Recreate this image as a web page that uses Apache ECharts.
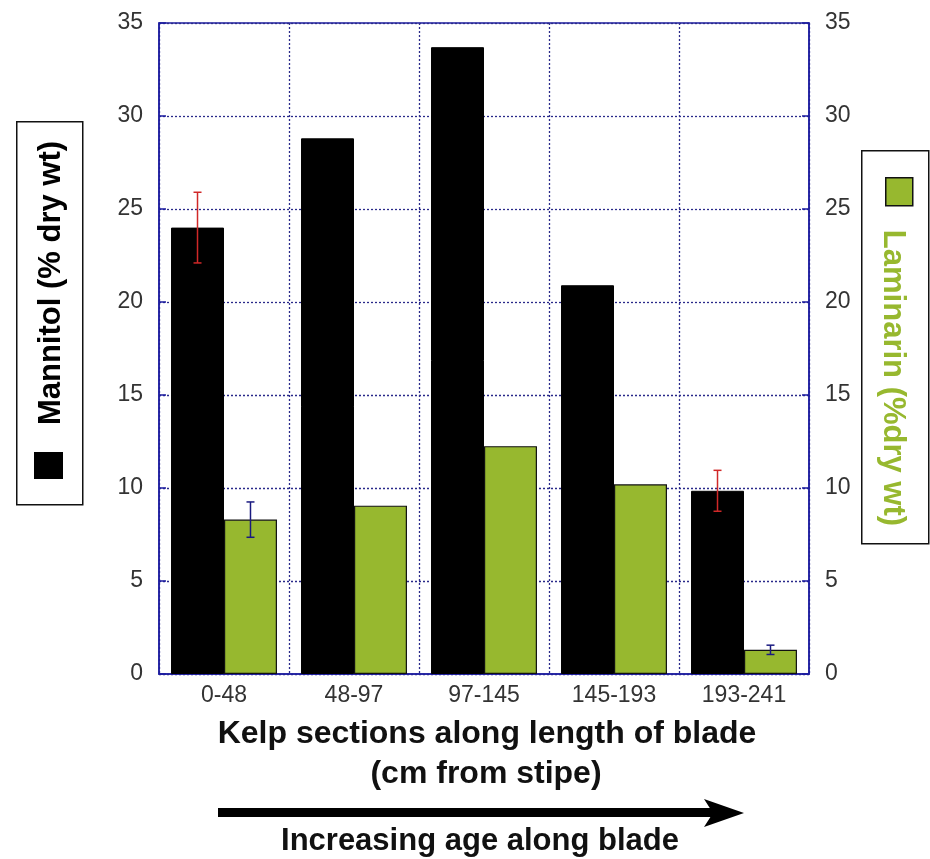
<!DOCTYPE html>
<html><head><meta charset="utf-8">
<script src="https://cdn.jsdelivr.net/npm/echarts@6/dist/echarts.min.js"></script>
<style>html,body{margin:0;padding:0;background:#fff}#c{width:930px;height:859px}</style>
</head><body><div id="c"></div>
<script>
var categories = ['0-48', '48-97', '97-145', '145-193', '193-241'];
var mannitol = [24.0, 28.8, 33.7, 20.9, 9.85];
var mannitolErr = [1.9, null, null, null, 1.1];
var laminarin = [8.3, 9.05, 12.25, 10.2, 1.3];
var laminarinErr = [0.95, null, null, null, 0.25];
var yTicks = [0, 5, 10, 15, 20, 25, 30, 35];

var axisBlue = '#1c1ca0';
var gridBlue = '#2a2a8a';
var green = '#97b82f';
var FONT = '"Liberation Sans", Arial, sans-serif';

function errSeries(name, vals, errs, seriesIndexOffset, color) {
  var data = vals.map(function (v, i) { return errs[i] == null ? null : [i, v - errs[i], v + errs[i]]; })
    .filter(function (d) { return d; });
  return {
    type: 'custom', name: name, yAxisIndex: 0, z: 5,
    renderItem: function (params, api) {
      var i = api.value(0);
      var lo = api.coord([i, api.value(1)]);
      var hi = api.coord([i, api.value(2)]);
      var band = api.size([1, 0])[0];
      var barW = band * 0.815 / 2;
      var x = lo[0] + seriesIndexOffset * barW;
      var cap = 4;
      var st = { stroke: color, lineWidth: 1.5 };
      return { type: 'group', children: [
        { type: 'line', shape: { x1: x, y1: lo[1], x2: x, y2: hi[1] }, style: st },
        { type: 'line', shape: { x1: x - cap, y1: hi[1], x2: x + cap, y2: hi[1] }, style: st },
        { type: 'line', shape: { x1: x - cap, y1: lo[1], x2: x + cap, y2: lo[1] }, style: st }
      ]};
    },
    data: data
  };
}

var yLabel = { color: '#333', fontSize: 23, fontFamily: FONT, margin: 16, padding: [0, 0, 7, 0],
  formatter: function (v) { return yTicks.indexOf(v) >= 0 ? String(v) : ''; } };

var chart = echarts.init(document.getElementById('c'));
chart.setOption({
  animation: false,
  backgroundColor: '#fff',
  grid: { left: 159, right: 121, top: 23, bottom: 185, show: true, borderColor: axisBlue, borderWidth: 1.5, backgroundColor: 'transparent' },
  xAxis: {
    type: 'category', data: categories, boundaryGap: true,
    axisLine: { lineStyle: { color: axisBlue, width: 1.5 } },
    axisTick: { inside: true, length: 6, lineStyle: { color: axisBlue, width: 1.5 } },
    axisLabel: { color: '#333', fontSize: 23, fontFamily: FONT, margin: 10 },
    splitLine: { show: true, lineStyle: { color: gridBlue, type: [2, 2], width: 1.3 } }
  },
  yAxis: [
    { type: 'value', min: 0, max: 35, interval: 5, position: 'left',
      axisLine: { show: true, lineStyle: { color: axisBlue, width: 1.5 } },
      axisTick: { show: true, inside: true, length: 7, lineStyle: { color: axisBlue, width: 1.5 } },
      axisLabel: yLabel,
      splitLine: { show: true, lineStyle: { color: gridBlue, type: [2, 2], width: 1.3 } } },
    { type: 'value', min: 0, max: 35, interval: 5, position: 'right',
      axisLine: { show: true, lineStyle: { color: axisBlue, width: 1.5 } },
      axisTick: { show: true, inside: true, length: 7, lineStyle: { color: axisBlue, width: 1.5 } },
      axisLabel: yLabel,
      splitLine: { show: false } }
  ],
  series: [
    { name: 'Mannitol', type: 'bar', data: mannitol, yAxisIndex: 0, barGap: '0%', barCategoryGap: '18.5%',
      itemStyle: { color: '#000', borderColor: '#000', borderWidth: 1 }, z: 3 },
    { name: 'Laminarin', type: 'bar', data: laminarin, yAxisIndex: 1, barGap: '0%', barCategoryGap: '18.5%',
      itemStyle: { color: green, borderColor: '#111', borderWidth: 1.2 }, z: 3 },
    errSeries('MannitolErr', mannitol, mannitolErr, -0.5, '#d02828'),
    errSeries('LaminarinErr', laminarin, laminarinErr, 0.5, '#1a1a80')
  ],
  graphic: [
    { type: 'rect', left: 16, top: 121, shape: { width: 66, height: 383 }, style: { fill: '#fff', stroke: '#111', lineWidth: 1.5 } },
    { type: 'rect', left: 34, top: 452, shape: { width: 29, height: 27 }, style: { fill: '#000' } },
    { type: 'text', x: 51, y: 283, rotation: Math.PI / 2,
      style: { text: 'Mannitol (% dry wt)', font: 'bold 31px ' + FONT, fill: '#000', textAlign: 'center', textVerticalAlign: 'middle' } },
    { type: 'rect', left: 861, top: 150, shape: { width: 67, height: 393 }, style: { fill: '#fff', stroke: '#111', lineWidth: 1.5 } },
    { type: 'rect', left: 885, top: 177, shape: { width: 27, height: 28 }, style: { fill: green, stroke: '#111', lineWidth: 1.5 } },
    { type: 'text', x: 893, y: 378, rotation: -Math.PI / 2,
      style: { text: 'Laminarin (%dry wt)', font: 'bold 31px ' + FONT, fill: green, textAlign: 'center', textVerticalAlign: 'middle' } },
    { type: 'text', x: 487, y: 734,
      style: { text: 'Kelp sections along length of blade', font: 'bold 32px ' + FONT, fill: '#111', textAlign: 'center', textVerticalAlign: 'middle' } },
    { type: 'text', x: 486, y: 774,
      style: { text: '(cm from stipe)', font: 'bold 32px ' + FONT, fill: '#111', textAlign: 'center', textVerticalAlign: 'middle' } },
    { type: 'rect', left: 218, top: 808, shape: { width: 495, height: 9 }, style: { fill: '#000' } },
    { type: 'polygon', shape: { points: [[704, 799], [744, 813], [704, 827], [713, 813]] }, style: { fill: '#000' } },
    { type: 'text', x: 480, y: 841,
      style: { text: 'Increasing age along blade', font: 'bold 31px ' + FONT, fill: '#111', textAlign: 'center', textVerticalAlign: 'middle' } }
  ]
});
</script></body></html>
